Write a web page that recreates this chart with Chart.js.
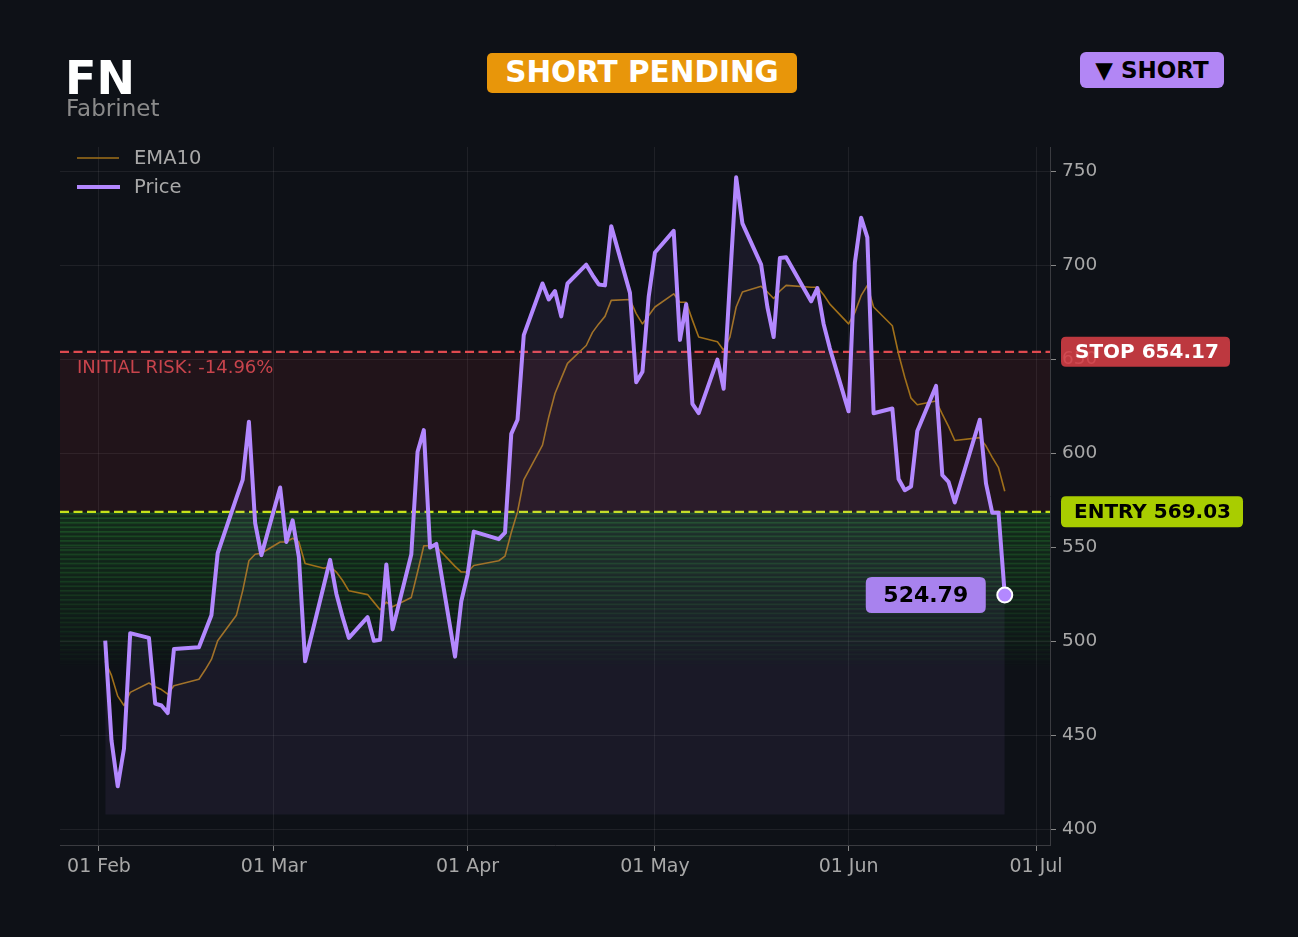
<!DOCTYPE html>
<html>
<head>
<meta charset="utf-8">
<script src="https://cdn.jsdelivr.net/npm/chart.js@4.4.1/dist/chart.umd.min.js"></script>
<style>
html,body{margin:0;padding:0;background:#0e1117;width:1298px;height:937px;overflow:hidden;font-family:'DejaVu Sans',sans-serif;}
#c{position:absolute;left:0;top:0;}
.abs{position:absolute;line-height:1;white-space:nowrap;}
#ticker{left:65px;top:55px;font-size:46px;font-weight:bold;color:#ffffff;}
#name{left:66px;top:97px;font-size:23px;color:#8a8a8a;}
.badge{position:absolute;display:flex;align-items:center;justify-content:center;font-weight:bold;line-height:1;white-space:nowrap;}
#status{left:487px;top:53px;width:310px;height:40px;border-radius:5px;background:#e8960a;color:#ffffff;font-size:29.5px;}
#side{left:1080px;top:52px;width:144px;height:36px;border-radius:6px;background:#b286f5;color:#000000;font-size:23px;}
</style>
</head>
<body>
<canvas id="c" width="1298" height="937"></canvas>
<div class="abs" id="ticker"></div>
<div class="abs" id="name"></div>
<div class="badge" id="status"></div>
<div class="badge" id="side"></div>
<script>
// ---------- data ----------
const TICKER = 'FN';
const NAME = 'Fabrinet';
const STATUS = 'SHORT PENDING';
const SIDE = '\u25BC SHORT';
const ENTRY = 569.03;
const STOP = 654.17;
const RISK_TEXT = 'INITIAL RISK: -14.96%';
const GREEN_BOTTOM = 487;
const FILL_FLOOR = 408;

const dates = [
 '2026-02-02','2026-02-03','2026-02-04','2026-02-05','2026-02-06','2026-02-09','2026-02-10','2026-02-11','2026-02-12','2026-02-13',
 '2026-02-17','2026-02-18','2026-02-19','2026-02-20','2026-02-23','2026-02-24','2026-02-25','2026-02-26','2026-02-27',
 '2026-03-02','2026-03-03','2026-03-04','2026-03-05','2026-03-06','2026-03-09','2026-03-10','2026-03-11','2026-03-12','2026-03-13',
 '2026-03-16','2026-03-17','2026-03-18','2026-03-19','2026-03-20','2026-03-23','2026-03-24','2026-03-25','2026-03-26','2026-03-27',
 '2026-03-30','2026-03-31',
 '2026-04-01','2026-04-02','2026-04-06','2026-04-07','2026-04-08','2026-04-09','2026-04-10','2026-04-13','2026-04-14','2026-04-15',
 '2026-04-16','2026-04-17','2026-04-20','2026-04-21','2026-04-22','2026-04-23','2026-04-24','2026-04-27','2026-04-28','2026-04-29','2026-04-30',
 '2026-05-01','2026-05-04','2026-05-05','2026-05-06','2026-05-07','2026-05-08','2026-05-11','2026-05-12','2026-05-13','2026-05-14',
 '2026-05-15','2026-05-18','2026-05-19','2026-05-20','2026-05-21','2026-05-22','2026-05-26','2026-05-27','2026-05-28','2026-05-29',
 '2026-06-01','2026-06-02','2026-06-03','2026-06-04','2026-06-05','2026-06-08','2026-06-09','2026-06-10','2026-06-11','2026-06-12',
 '2026-06-15','2026-06-16','2026-06-17','2026-06-18','2026-06-22','2026-06-23','2026-06-24','2026-06-25','2026-06-26'
];

const price = [
 500.5,447.5,423,443,504.5,502,467,466,462,496,497,505.5,514,547,576.5,586,617,563,546,
 582,553,564.5,545,489.5,530,543.5,525.5,513,502,513,500.5,501,541,506.5,546.5,601,612.5,550,552,492,521.5,
 535.5,558.5,554.5,558,610.5,618,663,690.5,682,686.5,673,690.5,700.5,695,690,689.5,721,685.5,638,643.5,683.5,
 707,718.5,660.5,679.5,626.5,621.5,650,634.5,691.5,747,722.5,700.5,678,662,704,704.5,681,688,669,656,
 622.5,701.5,725.5,715,621.5,624,586.5,580.5,582.5,612,636,588.5,585,574,618,584,568.5,568.5,524.79
];

const ema10 = [
 489.5,482,471,466,473,478,476,474.5,472,476.5,480,485,490.5,500.5,514,527,543,546.5,547,
 553,553,555,553,541.5,539,540,537,532.5,527,525,521,517,521,518.5,523.5,537,551,551,550.5,540,537,
 537,540.5,543,545.5,558,569,586,604.5,619.5,632,640,648,657.5,664.5,669,673,681.5,682,674.5,669,673.5,
 678,685,680.5,680.5,671,662,659.5,655,662,678,686,689,686,682.5,686.5,689.5,688.5,688.5,684.5,679.5,
 669,675,684,689.5,678,668,653,640.5,629.5,626,628,621,614.5,607,608.5,604,598,592.5,580
];

const xTickDates = ['2026-02-01','2026-03-01','2026-04-01','2026-05-01','2026-06-01','2026-07-01'];
const xTickLabels = ['01 Feb','01 Mar','01 Apr','01 May','01 Jun','01 Jul'];
const yTicks = [400,450,500,550,600,650,700,750];
const X_MIN = -6.24, X_MAX = 152.24;
const Y_MIN = 391.8, Y_MAX = 763.1;

// ---------- helpers ----------
const BASE = Date.parse('2026-02-01T00:00:00Z');
const dayIdx = s => (Date.parse(s + 'T00:00:00Z') - BASE) / 864e5;
const xTickVals = xTickDates.map(dayIdx);

document.getElementById('ticker').textContent = TICKER;
document.getElementById('name').textContent = NAME;
document.getElementById('status').textContent = STATUS;
document.getElementById('side').textContent = SIDE;

const PRICE_COLOR = '#b388ff';
const EMA_COLOR = '#a0701a';
const FONT = 'DejaVu Sans';
const TXT = '#a8a8a8';

function roundRect(ctx, x, y, w, h, r) {
  ctx.beginPath();
  ctx.moveTo(x + r, y);
  ctx.lineTo(x + w - r, y);
  ctx.quadraticCurveTo(x + w, y, x + w, y + r);
  ctx.lineTo(x + w, y + h - r);
  ctx.quadraticCurveTo(x + w, y + h, x + w - r, y + h);
  ctx.lineTo(x + r, y + h);
  ctx.quadraticCurveTo(x, y + h, x, y + h - r);
  ctx.lineTo(x, y + r);
  ctx.quadraticCurveTo(x, y, x + r, y);
  ctx.closePath();
}

const overlay = {
  id: 'overlay',
  beforeDatasetsDraw(chart) {
    const { ctx, chartArea: a, scales: { y } } = chart;
    const w = a.right - a.left;
    ctx.save();
    // risk zone
    const ps = y.getPixelForValue(STOP), pe = y.getPixelForValue(ENTRY);
    ctx.fillStyle = 'rgba(205,50,60,0.1)';
    ctx.fillRect(a.left, ps, w, pe - ps);
    // green bands
    const N = 34;
    for (let i = 0; i < N; i++) {
      const v0 = ENTRY - (ENTRY - GREEN_BOTTOM) * i / N;
      const v1 = ENTRY - (ENTRY - GREEN_BOTTOM) * (i + 1) / N;
      const p0 = y.getPixelForValue(v0), p1 = y.getPixelForValue(v1);
      const al = 0.21 * Math.pow(1 - i / N, 0.75);
      ctx.fillStyle = 'rgba(45,150,50,' + al.toFixed(3) + ')';
      ctx.fillRect(a.left, p0, w, p1 - p0);
      ctx.fillStyle = 'rgba(45,160,55,' + (al * 1.4).toFixed(3) + ')';
      ctx.fillRect(a.left, p0 + 1, w, 1.7);
    }
    // dashed lines
    ctx.setLineDash([9, 4.5]);
    ctx.lineWidth = 2.2;
    ctx.strokeStyle = '#e04a4f';
    ctx.beginPath(); ctx.moveTo(a.left, ps); ctx.lineTo(a.right, ps); ctx.stroke();
    ctx.strokeStyle = '#c8e31a';
    ctx.beginPath(); ctx.moveTo(a.left, pe); ctx.lineTo(a.right, pe); ctx.stroke();
    ctx.setLineDash([]);
    // risk text
    ctx.font = '18px "' + FONT + '"';
    ctx.fillStyle = '#c8444c';
    ctx.textBaseline = 'middle';
    ctx.textAlign = 'left';
    ctx.fillText(RISK_TEXT, a.left + 17, ps + 17);
    ctx.restore();
  },
  afterDraw(chart) {
    const { ctx, chartArea: a, scales: { y } } = chart;
    ctx.save();
    ctx.textBaseline = 'middle';
    ctx.textAlign = 'left';
    // legend
    ctx.lineWidth = 1.6;
    ctx.strokeStyle = EMA_COLOR;
    ctx.beginPath(); ctx.moveTo(a.left + 17, a.top + 11); ctx.lineTo(a.left + 59, a.top + 11); ctx.stroke();
    ctx.lineWidth = 4;
    ctx.strokeStyle = PRICE_COLOR;
    ctx.beginPath(); ctx.moveTo(a.left + 17, a.top + 40); ctx.lineTo(a.left + 60, a.top + 40); ctx.stroke();
    ctx.font = '19.5px "' + FONT + '"';
    ctx.fillStyle = TXT;
    ctx.fillText(chart.data.datasets[1].label, a.left + 74, a.top + 12);
    ctx.fillText(chart.data.datasets[0].label, a.left + 74, a.top + 41);

    // stop / entry labels
    const ps = y.getPixelForValue(STOP), pe = y.getPixelForValue(ENTRY);
    ctx.font = 'bold 20px "' + FONT + '"';
    ctx.fillStyle = 'rgba(214,62,70,0.88)';
    roundRect(ctx, a.right + 11, ps - 15, 169, 30, 5); ctx.fill();
    ctx.fillStyle = '#ffffff';
    ctx.fillText('STOP ' + STOP.toFixed(2), a.right + 25, ps + 1);
    ctx.fillStyle = '#a9cd00';
    roundRect(ctx, a.right + 11, pe - 15.5, 182, 31, 5); ctx.fill();
    ctx.fillStyle = '#000000';
    ctx.fillText('ENTRY ' + ENTRY.toFixed(2), a.right + 24, pe + 1);

    // last price label
    const meta = chart.getDatasetMeta(0);
    const pt = meta.data[meta.data.length - 1];
    const last = price[price.length - 1];
    ctx.fillStyle = '#a882ee';
    roundRect(ctx, pt.x - 139, pt.y - 18, 120, 36, 6); ctx.fill();
    ctx.fillStyle = '#000000';
    ctx.font = 'bold 22px "' + FONT + '"';
    ctx.textAlign = 'center';
    ctx.fillText(last.toFixed(2), pt.x - 79, pt.y + 1);
    ctx.restore();
  }
};

Chart.defaults.font.family = FONT;
const lastIdx = price.length - 1;

new Chart(document.getElementById('c'), {
  type: 'line',
  data: {
    datasets: [
      {
        label: 'Price',
        data: dates.map((d, i) => ({ x: dayIdx(d), y: price[i] })),
        borderColor: PRICE_COLOR,
        borderWidth: 4,
        borderJoinStyle: 'round',
        backgroundColor: 'rgba(180,140,255,0.07)',
        fill: { value: FILL_FLOOR },
        tension: 0,
        pointRadius: c => c.dataIndex === lastIdx ? 7.5 : 0,
        pointHoverRadius: 0,
        pointBackgroundColor: PRICE_COLOR,
        pointBorderColor: '#ffffff',
        pointBorderWidth: 2
      },
      {
        label: 'EMA10',
        data: dates.map((d, i) => ({ x: dayIdx(d), y: ema10[i] })),
        borderColor: EMA_COLOR,
        borderWidth: 1.6,
        borderJoinStyle: 'round',
        fill: false,
        tension: 0,
        pointRadius: 0
      }
    ]
  },
  options: {
    responsive: false,
    animation: false,
    events: [],
    layout: { padding: { left: 60, top: 147, right: 0, bottom: 0 } },
    plugins: { legend: { display: false }, tooltip: { enabled: false } },
    scales: {
      x: {
        type: 'linear',
        position: 'bottom',
        min: X_MIN,
        max: X_MAX,
        afterFit: s => { s.height = 92; },
        afterBuildTicks: s => { s.ticks = xTickVals.map(v => ({ value: v })); },
        ticks: {
          autoSkip: false,
          maxRotation: 0,
          padding: 5,
          color: TXT,
          font: { size: 19 },
          callback: (v) => { const k = xTickVals.indexOf(v); return k >= 0 ? xTickLabels[k] : ''; }
        },
        grid: { color: 'rgba(255,255,255,0.07)', tickColor: '#888', tickLength: 6, drawTicks: true },
        border: { color: '#3a3b40', width: 1 }
      },
      y: {
        type: 'linear',
        position: 'right',
        min: Y_MIN,
        max: Y_MAX,
        afterFit: s => { s.width = 248; },
        afterBuildTicks: s => { s.ticks = yTicks.map(v => ({ value: v })); },
        ticks: { color: TXT, font: { size: 18.5 }, padding: 6, callback: v => String(v) },
        grid: { color: 'rgba(255,255,255,0.07)', tickColor: '#888', tickLength: 6 },
        border: { color: '#3a3b40', width: 1 }
      }
    }
  },
  plugins: [overlay]
});
</script>
</body>
</html>
